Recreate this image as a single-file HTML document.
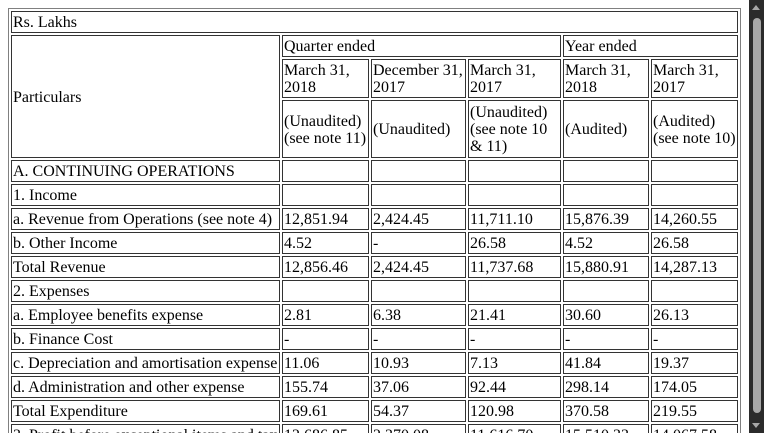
<!DOCTYPE html>
<html><head><meta charset="utf-8">
<style>
html,body{margin:0;padding:0;width:764px;height:433px;max-height:433px;overflow:hidden;background:#fff;}
body{font-family:"Liberation Serif",serif;font-size:16px;color:#000;position:relative;}
.wrap{position:absolute;left:8px;top:8px;height:425px;overflow:hidden;}
table{border:1px solid #808080;border-spacing:2px;table-layout:fixed;width:733px;}
td{border:1px solid #333;padding:1px 1px 0 1px;line-height:17px;vertical-align:middle;overflow:hidden;box-sizing:border-box;height:22px;white-space:nowrap;}
td.w{white-space:normal;}
.sb{position:absolute;left:749px;top:0;width:15px;height:433px;background:#2b2b2b;}
.thumb{position:absolute;left:4px;top:18px;width:8px;height:395px;background:#a8a8a8;border-radius:4px;}
.up{position:absolute;left:3px;top:5px;width:0;height:0;border-left:4px solid transparent;border-right:4px solid transparent;border-bottom:5px solid #a8a8a8;}
.dn{position:absolute;left:3px;top:423px;width:0;height:0;border-left:4px solid transparent;border-right:4px solid transparent;border-top:5px solid #a8a8a8;}
</style></head>
<body>
<div class="wrap">
<table>
<colgroup><col style="width:269px"><col style="width:87px"><col style="width:95px"><col style="width:93px"><col style="width:86px"><col style="width:87px"></colgroup>
<tr><td colspan="6">Rs. Lakhs</td></tr>
<tr><td rowspan="3">Particulars</td><td colspan="3">Quarter ended</td><td colspan="2">Year ended</td></tr>
<tr style="height:39px"><td class="w" style="height:39px">March 31, 2018</td><td class="w" style="height:39px">December 31, 2017</td><td class="w" style="height:39px">March 31, 2017</td><td class="w" style="height:39px">March 31, 2018</td><td class="w" style="height:39px">March 31, 2017</td></tr>
<tr style="height:58px"><td class="w" style="height:58px">(Unaudited) (see note 11)</td><td class="w" style="height:58px">(Unaudited)</td><td class="w" style="height:58px">(Unaudited) (see note 10 &amp; 11)</td><td class="w" style="height:58px">(Audited)</td><td class="w" style="height:58px">(Audited) (see note 10)</td></tr>
<tr><td>A. CONTINUING OPERATIONS</td><td></td><td></td><td></td><td></td><td></td></tr>
<tr><td>1. Income</td><td></td><td></td><td></td><td></td><td></td></tr>
<tr><td>a. Revenue from Operations (see note 4)</td><td>12,851.94</td><td>2,424.45</td><td>11,711.10</td><td>15,876.39</td><td>14,260.55</td></tr>
<tr><td>b. Other Income</td><td>4.52</td><td>-</td><td>26.58</td><td>4.52</td><td>26.58</td></tr>
<tr><td>Total Revenue</td><td>12,856.46</td><td>2,424.45</td><td>11,737.68</td><td>15,880.91</td><td>14,287.13</td></tr>
<tr><td>2. Expenses</td><td></td><td></td><td></td><td></td><td></td></tr>
<tr><td>a. Employee benefits expense</td><td>2.81</td><td>6.38</td><td>21.41</td><td>30.60</td><td>26.13</td></tr>
<tr><td>b. Finance Cost</td><td>-</td><td>-</td><td>-</td><td>-</td><td>-</td></tr>
<tr><td>c. Depreciation and amortisation expense</td><td>11.06</td><td>10.93</td><td>7.13</td><td>41.84</td><td>19.37</td></tr>
<tr><td>d. Administration and other expense</td><td>155.74</td><td>37.06</td><td>92.44</td><td>298.14</td><td>174.05</td></tr>
<tr><td>Total Expenditure</td><td>169.61</td><td>54.37</td><td>120.98</td><td>370.58</td><td>219.55</td></tr>
<tr><td>3. Profit before exceptional items and tax</td><td>12,686.85</td><td>2,370.08</td><td>11,616.70</td><td>15,510.33</td><td>14,067.58</td></tr>
</table>
</div>
<div class="sb"><div class="up"></div><div class="thumb"></div><div class="dn"></div></div>
</body></html>
